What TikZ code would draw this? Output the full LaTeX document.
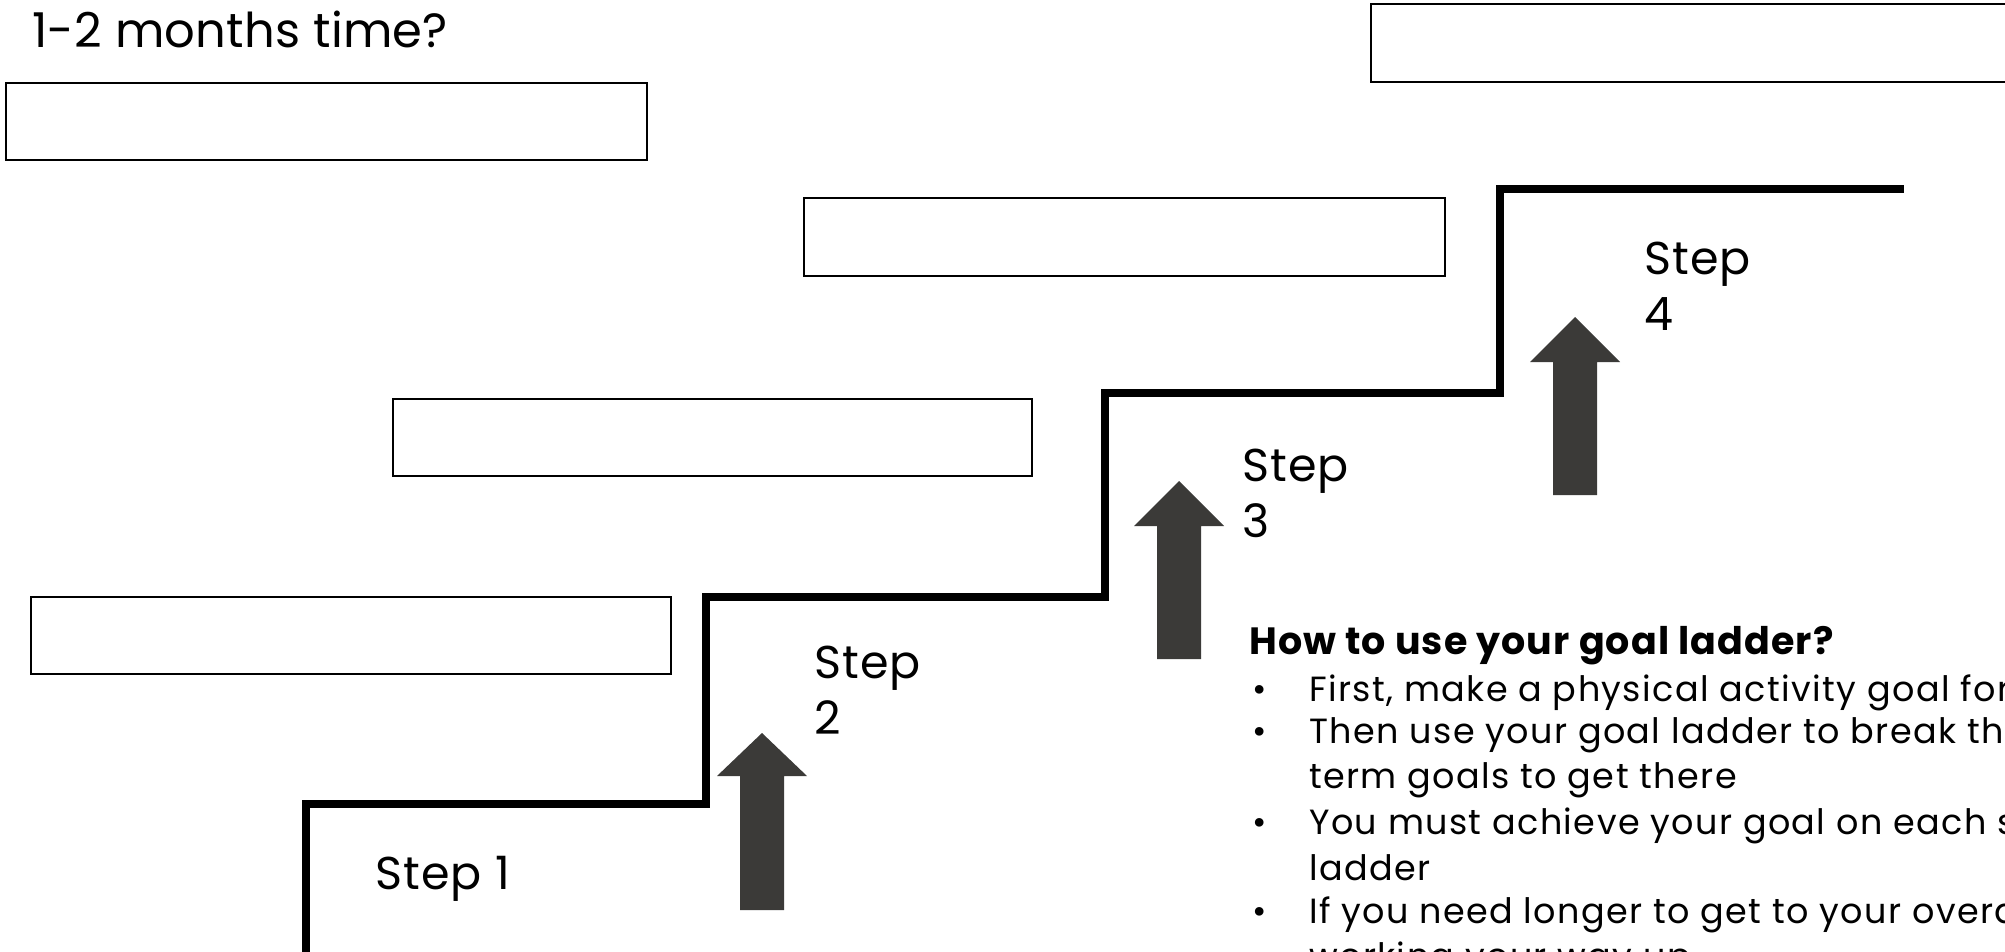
\documentclass[tikz,border=0pt]{standalone}
\usepackage{fontspec}
\setmainfont{Poppins}
\definecolor{arrowgray}{RGB}{59,58,56}
\begin{document}
\begin{tikzpicture}[x=1pt,y=-1pt,
  goalbox/.style={draw=black, line width=1.6pt},
  stair/.style={draw=black, line width=8pt, line join=miter},
  uparrow/.style={fill=arrowgray, draw=none},
  steplabel/.style={inner sep=0pt, anchor=base west, font=\fontsize{46}{56.5}\selectfont\addfontfeatures{LetterSpace=2.5}},
  titletext/.style={inner sep=0pt, anchor=base west, font=\fontsize{48}{58}\selectfont\addfontfeatures{LetterSpace=0.5}},
  headtext/.style={inner sep=0pt, anchor=base west, font=\fontsize{38}{44}\selectfont\bfseries\addfontfeatures{LetterSpace=2.8}},
  bodytext/.style={inner sep=0pt, anchor=base west, font=\fontsize{35}{44}\selectfont\addfontfeatures{LetterSpace=4}},
]
\useasboundingbox (0,0) rectangle (2005,951);
\clip (0,0) rectangle (2005,951);

% goal boxes
\draw[goalbox] (6,83) rectangle (647,160);
\draw[goalbox] (1371,4) rectangle (2012,82);
\draw[goalbox] (804,198) rectangle (1445,276);
\draw[goalbox] (393,399) rectangle (1032,476);
\draw[goalbox] (31,597) rectangle (671,674);

% staircase
\draw[stair] (306,960) -- (306,804) -- (706,804) -- (706,597) -- (1105,597)
  -- (1105,393) -- (1500,393) -- (1500,189) -- (1904,189);

% arrows
\foreach \cx/\tip/\base/\bot in {762/733/776/910, 1179/481/526/659, 1575/317/362/495}{
  \fill[uparrow] (\cx,\tip) -- (\cx+45,\base) -- (\cx+22,\base) -- (\cx+22,\bot)
    -- (\cx-22,\bot) -- (\cx-22,\base) -- (\cx-45,\base) -- cycle;
}

% labels
\node[titletext] (title) at (32,47) {1-2 months time?};
\node[steplabel] (s1) at (375,889) {Step 1};
\node[steplabel] (s2) at (814,678) {\begin{tabular}[t]{@{}l@{}}Step\\2\end{tabular}};
\node[steplabel] (s3) at (1242,481) {\begin{tabular}[t]{@{}l@{}}Step\\3\end{tabular}};
\node[steplabel] (s4) at (1644,274) {\begin{tabular}[t]{@{}l@{}}Step\\4\end{tabular}};

% instructions
\node[headtext] (head) at (1249,654) {How to use your goal ladder?};
\node[bodytext] (d1) at (1252,701) {•};
\node[bodytext] (d2) at (1252,743) {•};
\node[bodytext] (d3) at (1252,834) {•};
\node[bodytext] (d4) at (1252,923) {•};
\node[bodytext] (l1) at (1309,701) {First, make a physical activity goal for};
\node[bodytext] (l2) at (1309,743) {Then use your goal ladder to break th};
\node[bodytext] (l2b) at (1309,788) {term goals to get there};
\node[bodytext] (l3) at (1309,834) {You must achieve your goal on each s};
\node[bodytext] (l3b) at (1309,880) {ladder};
\node[bodytext] (l4) at (1309,923) {If you need longer to get to your overa};
\node[bodytext] (l4b) at (1309,968) {working your way up};
\end{tikzpicture}
\end{document}
